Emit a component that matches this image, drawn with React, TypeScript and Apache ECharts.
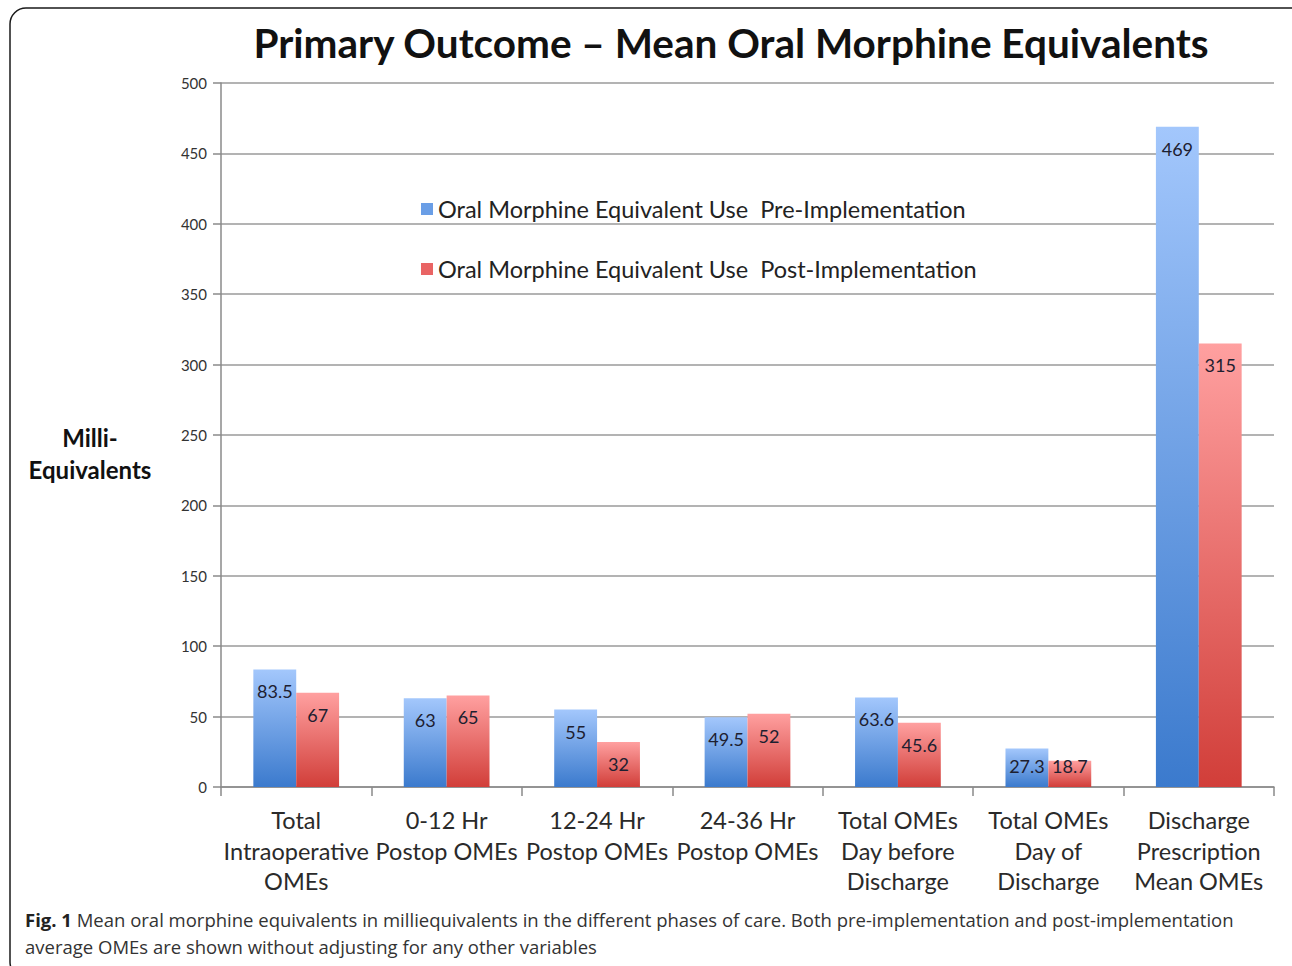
import React, { useEffect, useRef } from "react";
import * as echarts from "echarts";

const categories = [
  "Total\nIntraoperative\nOMEs",
  "0-12 Hr\nPostop OMEs",
  "12-24 Hr\nPostop OMEs",
  "24-36 Hr\nPostop OMEs",
  "Total OMEs\nDay before\nDischarge",
  "Total OMEs\nDay of\nDischarge",
  "Discharge\nPrescription\nMean OMEs",
];
const preValues = [83.5, 63, 55, 49.5, 63.6, 27.3, 469];
const postValues = [67, 65, 32, 52, 45.6, 18.7, 315];
const seriesNames = [
  "Oral Morphine Equivalent Use  Pre-Implementation",
  "Oral Morphine Equivalent Use  Post-Implementation",
];
const yTicks = { min: 0, max: 500, interval: 50 };
const title = "Primary Outcome \u2013 Mean Oral Morphine Equivalents";
const yName = "Milli-\nEquivalents";
const captionBold = "Fig. 1";
const captionLine1 =
  " Mean oral morphine equivalents in milliequivalents in the different phases of care. Both pre-implementation and post-implementation";
const captionLine2 = "average OMEs are shown without adjusting for any other variables";

const FONT = "Lato, 'Open Sans', sans-serif";

const grad = (top: string, bottom: string) =>
  new echarts.graphic.LinearGradient(0, 0, 0, 1, [
    { offset: 0, color: top },
    { offset: 1, color: bottom },
  ]);

export default function App() {
  const ref = useRef<HTMLDivElement>(null);
  useEffect(() => {
    if (!ref.current) return;
    const chart = echarts.init(ref.current, null, { renderer: "svg" });
    const makeData = (vals: number[]) =>
      vals.map((v) => ({
        value: v,
        label:
          v < 22
            ? { position: "insideTop", distance: -4 }
            : v < 30
            ? { position: "insideTop", distance: 8 }
            : undefined,
      }));
    const labelCfg = {
      show: true,
      position: "insideTop",
      distance: 13,
      color: "#1d2030",
      fontSize: 18,
      fontFamily: FONT,
    };
    chart.setOption({
      animation: false,
      backgroundColor: "#fff",
      textStyle: { fontFamily: FONT },
      grid: { left: 221, right: 18, top: 83, bottom: 179 },
      legend: {
        orient: "vertical",
        left: 416,
        top: 192,
        itemGap: 36,
        itemWidth: 12,
        itemHeight: 12,
        icon: "rect",
        textStyle: { fontSize: 23.5, color: "#222", fontFamily: FONT },
        data: [
          { name: seriesNames[0], itemStyle: { color: "#6a9ee6" } },
          { name: seriesNames[1], itemStyle: { color: "#e96464" } },
        ],
      },
      xAxis: {
        type: "category",
        data: categories,
        axisLine: { lineStyle: { color: "#8a8a8a", width: 1.5 } },
        axisTick: { show: true, length: 9, lineStyle: { color: "#8a8a8a", width: 1.5 } },
        axisLabel: {
          interval: 0,
          fontSize: 23.5,
          lineHeight: 30.5,
          color: "#2a2a2a",
          margin: 18,
          verticalAlign: "top",
          fontFamily: FONT,
        },
      },
      yAxis: {
        type: "value",
        min: yTicks.min,
        max: yTicks.max,
        interval: yTicks.interval,
        axisLine: { show: true, lineStyle: { color: "#8a8a8a", width: 1.5 } },
        axisTick: { show: true, length: 8, lineStyle: { color: "#8a8a8a", width: 1.5 } },
        axisLabel: { fontSize: 15, color: "#333", margin: 14, fontFamily: FONT },
        splitLine: { lineStyle: { color: "#9a9a9a", width: 1.5 } },
      },
      series: [
        {
          name: seriesNames[0],
          type: "bar",
          data: makeData(preValues),
          barCategoryGap: "43%",
          barGap: "0%",
          itemStyle: { color: grad("#a3c7fc", "#3b7acd") },
          label: labelCfg,
        },
        {
          name: seriesNames[1],
          type: "bar",
          data: makeData(postValues),
          barCategoryGap: "43%",
          barGap: "0%",
          itemStyle: { color: grad("#ffa0a0", "#d13e39") },
          label: labelCfg,
        },
      ],
      graphic: [
        {
          type: "rect",
          shape: { x: 10, y: 8, width: 1300, height: 970, r: 16 },
          style: { fill: "none", stroke: "#1a1a1a", lineWidth: 1.5 },
          silent: true,
          z: -10,
        },
        {
          type: "text",
          x: 731,
          y: 42,
          style: {
            text: title,
            fontSize: 40.5,
            fontWeight: "bold",
            fontFamily: FONT,
            fill: "#111",
            align: "center",
            verticalAlign: "middle",
          },
        },
        {
          type: "text",
          x: 90,
          y: 453,
          style: {
            text: yName,
            fontSize: 24,
            fontWeight: "bold",
            fontFamily: FONT,
            fill: "#111",
            align: "center",
            verticalAlign: "middle",
            lineHeight: 32,
          },
        },
        {
          type: "text",
          x: 25,
          y: 919,
          style: {
            text: "{b|" + captionBold + "}{n|" + captionLine1 + "}",
            verticalAlign: "middle",
            rich: {
              b: { fontSize: 18.5, fontWeight: "bold", fontFamily: "'Open Sans', sans-serif", fill: "#222" },
              n: { fontSize: 18.5, fontFamily: "'Open Sans', sans-serif", fill: "#333" },
            },
          },
        },
        {
          type: "text",
          x: 25,
          y: 946,
          style: {
            text: captionLine2,
            verticalAlign: "middle",
            fontSize: 18.5,
            fontFamily: "'Open Sans', sans-serif",
            fill: "#333",
          },
        },
      ],
    });
    return () => chart.dispose();
  }, []);
  return (
    <div
      ref={ref}
      style={{ position: "fixed", left: 0, top: 0, width: 1292, height: 966 }}
    />
  );
}
